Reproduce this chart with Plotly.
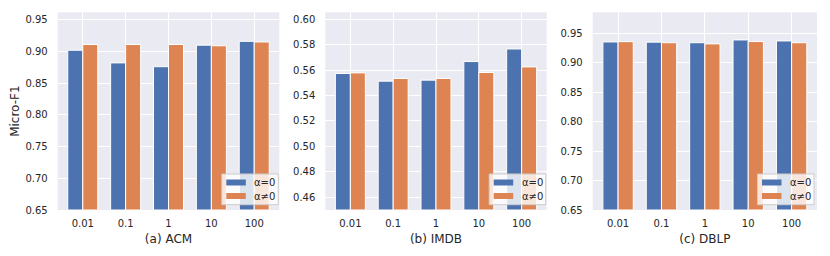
import plotly.graph_objects as go

categories = ["0.01", "0.1", "1", "10", "100"]
acm_a0 = [0.902, 0.882, 0.876, 0.910, 0.916]
acm_an0 = [0.911, 0.911, 0.911, 0.909, 0.915]
imdb_a0 = [0.5573, 0.5513, 0.5521, 0.5667, 0.5766]
imdb_an0 = [0.5578, 0.5534, 0.5534, 0.5581, 0.5625]
dblp_a0 = [0.9353, 0.9350, 0.9340, 0.9387, 0.9370]
dblp_an0 = [0.9358, 0.9340, 0.9320, 0.9360, 0.9340]
panel_titles = ["(a) ACM", "(b) IMDB", "(c) DBLP"]
y_lows = [0.65, 0.45, 0.65]
y_dticks = [0.05, 0.02, 0.05]
series_names = ["α=0", "α≠0"]

BLUE = "#4C72B0"
ORANGE = "#DD8452"
BG = "#EAEAF2"
TXT = "#262626"
FONT = "DejaVu Sans"
OFF = 8  # page body margin
W, H = 830 - OFF, 256 - OFF


def px(xv):
    return (xv - OFF) / W


def py(yv):
    return 1 - (yv - OFF) / H


panels = [(acm_a0, acm_an0), (imdb_a0, imdb_an0), (dblp_a0, dblp_an0)]
xdoms_px = [(57.7, 279.3), (325.3, 546.7), (592.7, 817.0)]
legend_right_px = [278.3, 545.7, 814.0]
ytop_px, ybot_px = 12.3, 210.0
ydom = [py(ybot_px), py(ytop_px)]

fig = go.Figure()
xpos = list(range(len(categories)))
bw = 0.35
for i, (a0, an0) in enumerate(panels):
    ax = "" if i == 0 else str(i + 1)
    for vals, col, off, name in [(a0, BLUE, -bw / 2, series_names[0]), (an0, ORANGE, bw / 2, series_names[1])]:
        base = y_lows[i]
        fig.add_trace(go.Bar(
            x=[p + off for p in xpos], y=[v - base for v in vals], base=base,
            width=bw, marker=dict(color=col, line=dict(color="white", width=1)),
            xaxis="x" + ax, yaxis="y" + ax, showlegend=False, name=name,
        ))

shapes, annotations = [], []
layout = dict(
    width=W, height=H, margin=dict(l=0, r=0, t=0, b=0, autoexpand=False),
    paper_bgcolor="white", plot_bgcolor=BG, barmode="overlay", showlegend=False,
    font=dict(family=FONT, size=10, color=TXT),
)
for i, (a0, an0) in enumerate(panels):
    ax = "" if i == 0 else str(i + 1)
    xd = [px(xdoms_px[i][0]), px(xdoms_px[i][1])]
    ytop = max(a0 + an0) * 1.05
    layout["xaxis" + ax] = dict(
        domain=xd, range=[-0.585, len(categories) - 1 + 0.585],
        tickmode="array", tickvals=xpos, ticktext=categories,
        showgrid=True, gridcolor="white", gridwidth=1, zeroline=False,
        showline=False, ticks="", ticklabelstandoff=6, automargin=False,
        tickfont=dict(family=FONT, size=10, color=TXT),
        anchor="y" + ax,
        title=dict(text=panel_titles[i], font=dict(family=FONT, size=12, color=TXT), standoff=6),
    )
    layout["yaxis" + ax] = dict(
        domain=ydom, range=[y_lows[i], ytop], dtick=y_dticks[i], tick0=0,
        tickformat=".2f", showgrid=True, gridcolor="white", gridwidth=1,
        zeroline=False, showline=False, ticks="", ticklabelstandoff=9, automargin=False,
        tickfont=dict(family=FONT, size=10, color=TXT), anchor="x" + ax,
    )
    if i == 0:
        layout["yaxis"]["title"] = dict(text="Micro-F1", font=dict(family=FONT, size=12, color=TXT), standoff=3)

    # legend box (drawn like matplotlib's inset legend)
    R = legend_right_px[i]
    shapes.append(dict(type="rect", xref="paper", yref="paper", layer="above",
                       x0=px(R - 56.5), x1=px(R), y0=py(204.7), y1=py(174.0),
                       fillcolor="rgba(255,255,255,0.8)", line=dict(color="#cccccc", width=1)))
    for k, (col, name) in enumerate([(BLUE, series_names[0]), (ORANGE, series_names[1])]):
        yc = 182.5 + k * 13.5
        shapes.append(dict(type="rect", xref="paper", yref="paper", layer="above",
                           x0=px(R - 52), x1=px(R - 32.5), y0=py(yc + 3), y1=py(yc - 3),
                           fillcolor=col, line=dict(width=0)))
        annotations.append(dict(xref="paper", yref="paper", x=px(R - 26), y=py(yc),
                                xanchor="left", yanchor="middle", text=name, showarrow=False,
                                font=dict(family=FONT, size=10, color=TXT)))
layout["shapes"] = shapes
layout["annotations"] = annotations
fig.update_layout(**layout)
fig.write_html("out.html")
